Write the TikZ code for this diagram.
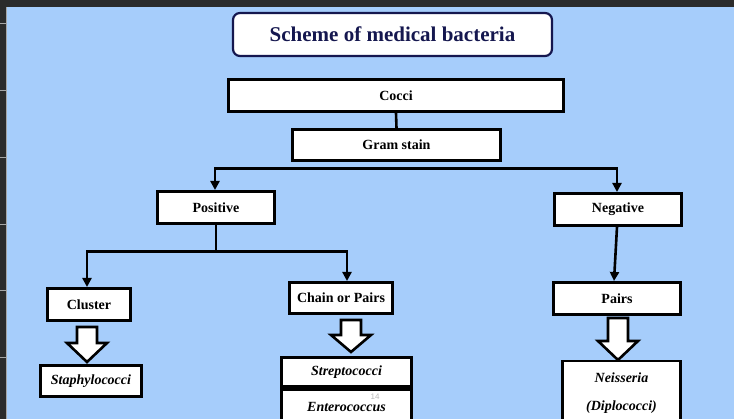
\documentclass[tikz,border=0pt]{standalone}
\usepackage{fontspec}
\setmainfont{Liberation Serif}
\setsansfont{Liberation Sans}
\usetikzlibrary{arrows.meta,calc}
\definecolor{bgblue}{HTML}{A6CDFB}
\definecolor{framegray}{HTML}{2B2B2B}
\definecolor{navy}{HTML}{15174F}
\tikzset{
  box/.style={draw=black, line width=2.6pt, fill=white, inner sep=0pt,
    font=\fontsize{14}{16}\selectfont\bfseries, text=black},
  itbox/.style={box, font=\fontsize{14}{16}\selectfont\bfseries\itshape},
  conn/.style={line width=2.6pt, draw=black},
  arr/.style={conn, -{Triangle[length=9pt,width=9pt]}},
  blockarrow/.style={draw=black, fill=white, line width=2.6pt, line join=miter},
}
\begin{document}
\begin{tikzpicture}[x=1pt,y=-1pt]
\useasboundingbox (0,0) rectangle (734,419);
\clip (0,0) rectangle (734,419);
\fill[bgblue] (0,0) rectangle (734,419);
% window frame
\fill[framegray] (0,0) rectangle (734,7);
\fill[framegray] (0,0) rectangle (6.5,419);
\draw[gray!70, line width=0.6pt] (6.3,7) -- (6.3,419);
\foreach \yy in {24,91,158,225,291,358}
  \draw[gray!70, line width=1pt] (0,\yy) -- (6,\yy);

% title
\node[draw=navy, line width=2.2pt, rounded corners=7pt, fill=white,
  minimum width=319pt, minimum height=43pt,
  font=\fontsize{21}{24}\selectfont\bfseries, text=navy] (title) at (392.5,34.5)
  {Scheme of medical bacteria};

% boxes
\node[box, minimum width=335.4pt, minimum height=32.4pt] (cocci) at (396,95.5) {Cocci};
\node[box, minimum width=208.4pt, minimum height=31.4pt] (gram) at (396.5,145) {Gram stain};
\node[box, minimum width=117.4pt, minimum height=32.4pt] (pos) at (216,207.5) {Positive};
\node[box, minimum width=127.4pt, minimum height=32.4pt] (neg) at (618,209.5) {Negative};
\node[box, minimum width=83.4pt, minimum height=32.4pt] (clu) at (89,304.5) {Cluster};
\node[box, minimum width=103.4pt, minimum height=31.4pt] (chain) at (341,298) {Chain or Pairs};
\node[box, minimum width=127.4pt, minimum height=32.4pt] (pairs) at (617,298.5) {Pairs};

% block arrows
\coordinate (ba1) at (87,327);
\coordinate (ba2) at (351,320);
\coordinate (ba3) at (618,318);
\draw[blockarrow] (ba1) ++(-10,0) -- ++(20,0) -- ++(0,16) -- ++(10,0) -- ++(-20,19) -- ++(-20,-19) -- ++(10,0) -- cycle;
\draw[blockarrow] (ba2) ++(-10,0) -- ++(20,0) -- ++(0,15) -- ++(10,0) -- ++(-20,17) -- ++(-20,-17) -- ++(10,0) -- cycle;
\draw[blockarrow] (ba3) ++(-10,0) -- ++(20,0) -- ++(0,23) -- ++(10,0) -- ++(-20,19) -- ++(-20,-19) -- ++(10,0) -- cycle;

% result boxes
\node[itbox, minimum width=101.4pt, minimum height=31.4pt] (staph) at (91,381) {Staphylococci};
\node[itbox, minimum width=130.4pt, minimum height=29.4pt] (strep) at (346.5,372) {Streptococci};
\node[itbox, minimum width=130.4pt, minimum height=34pt, anchor=north] (entero) at (346.5,388) {};
\node[font=\fontsize{14}{16}\selectfont\bfseries\itshape, inner sep=0pt] (enterot) at (346.5,407) {Enterococcus};
\node[itbox, minimum width=118.4pt, minimum height=64pt, align=center,
  font=\fontsize{14}{28}\selectfont\bfseries\itshape] (neis) at (621.5,393)
  {Neisseria\\(Diplococci)};
\node[text=gray!55, font=\fontsize{8}{9}\selectfont\sffamily, inner sep=0pt] (pnum) at (375,397) {14};

% connectors
\draw[conn] (cocci.south) -- (gram.north);
\coordinate (gbar) at (396,168.5);
\draw[arr] (gbar) -| ([xshift=-1pt]pos.north);
\draw[arr] (gbar) -| ([xshift=-1pt]neg.north);
\coordinate (pbar) at (216,251.5);
\draw[conn] (pos.south) -- (pbar);
\draw[arr] (pbar) -| ([xshift=-2pt]clu.north);
\draw[arr] (pbar) -| ([xshift=6pt]chain.north);
\draw[arr] ([xshift=-1pt]neg.south) -- ([xshift=-3pt]pairs.north);
\end{tikzpicture}
\end{document}
